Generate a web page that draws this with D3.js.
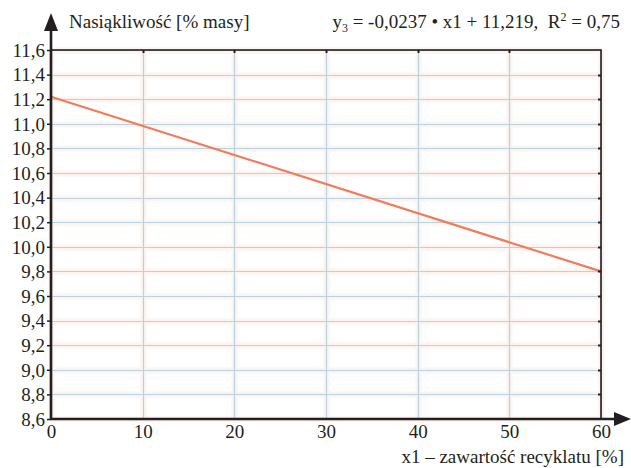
<!DOCTYPE html>
<html>
<head>
<meta charset="utf-8">
<script src="https://cdn.jsdelivr.net/npm/d3@7"></script>
<style>
text, tspan { font-family: "Times New Roman", "Liberation Serif", Tinos !important; }
</style>
</head>
<body style="margin:0">
<svg id="chart" width="631" height="468"></svg>
<script>
// data
const xTicks = [0, 10, 20, 30, 40, 50, 60];
const yTicks = [8.6, 8.8, 9.0, 9.2, 9.4, 9.6, 9.8, 10.0, 10.2, 10.4, 10.6, 10.8, 11.0, 11.2, 11.4, 11.6];
const lineX = [0, 60];
const lineY = [11.22, 9.8];
const yTitle = 'Nasiąkliwość [% masy]';
const xTitle = 'x1 – zawartość recyklatu [%]';

const INK = '#231f20';
const svg = d3.select('#chart');
const pLeft = 51, pRight = 601, pTop = 50, pBottom = 419;

const x = d3.scaleLinear().domain([0, 60]).range([pLeft, pRight]);
const y = d3.scaleLinear().domain([8.6, 11.6]).range([pBottom, pTop]);
const fmt = d => d3.format('.1f')(d).replace('.', ',');
const crisp = v => Math.round(v) + 0.5;

function serif(sel, size) {
	sel.style('font-family', '"Times New Roman"')
		.style('font-size', size + 'px')
		.attr('fill', INK);
}

// grid, faint pink halo then light blue
const grid = svg.append('g');
grid.selectAll('.hp').data(yTicks).enter().append('line')
	.attr('x1', pLeft).attr('x2', pRight)
	.attr('y1', d => crisp(y(d))).attr('y2', d => crisp(y(d)))
	.attr('stroke', '#fdf3ef').attr('stroke-width', 6);
grid.selectAll('.vp').data(xTicks).enter().append('line')
	.attr('y1', pTop).attr('y2', pBottom)
	.attr('x1', d => crisp(x(d))).attr('x2', d => crisp(x(d)))
	.attr('stroke', '#fdf3ef').attr('stroke-width', 6);
grid.selectAll('.h').data(yTicks).enter().append('line')
	.attr('x1', pLeft).attr('x2', pRight)
	.attr('y1', d => crisp(y(d))).attr('y2', d => crisp(y(d)))
	.attr('stroke', '#b5d3e3').attr('stroke-width', 1.2);
grid.selectAll('.v').data(xTicks).enter().append('line')
	.attr('y1', pTop).attr('y2', pBottom)
	.attr('x1', d => crisp(x(d))).attr('x2', d => crisp(x(d)))
	.attr('stroke', '#b5d3e3').attr('stroke-width', 1.2);

// regression line
svg.append('path')
	.datum(d3.zip(lineX, lineY))
	.attr('d', d3.line().x(d => x(d[0])).y(d => y(d[1])))
	.attr('stroke', '#f27b5c').attr('stroke-width', 2.2).attr('fill', 'none');

// frame
svg.append('rect')
	.attr('x', pLeft).attr('y', pTop).attr('width', pRight - pLeft).attr('height', pBottom - pTop)
	.attr('fill', 'none').attr('stroke', INK).attr('stroke-width', 1.6);

// small inner ticks on top and right
svg.append('g').selectAll('line').data(xTicks.slice(1, -1)).enter().append('line')
	.attr('x1', d => crisp(x(d))).attr('x2', d => crisp(x(d))).attr('y1', pTop).attr('y2', pTop + 3)
	.attr('stroke', INK).attr('stroke-width', 2);
svg.append('g').selectAll('line').data(yTicks.slice(1, -1)).enter().append('line')
	.attr('y1', d => crisp(y(d))).attr('y2', d => crisp(y(d))).attr('x1', pRight - 3).attr('x2', pRight)
	.attr('stroke', INK).attr('stroke-width', 2);

// axes
const yAxis = svg.append('g').attr('transform', `translate(${pLeft},0)`)
	.call(d3.axisLeft(y).tickValues(yTicks).tickFormat(fmt).tickSize(4).tickPadding(2));
const xAxis = svg.append('g').attr('transform', `translate(0,${pBottom})`)
	.call(d3.axisBottom(x).tickValues(xTicks).tickSize(0).tickPadding(3));
[yAxis, xAxis].forEach(a => {
	a.attr('font-family', null).attr('font-size', null);
	a.select('.domain').remove();
	a.selectAll('text').call(serif, 19);
	a.selectAll('.tick line').attr('stroke', INK).attr('stroke-width', 1.5);
});
xAxis.selectAll('text').attr('dy', '0.85em');
yAxis.selectAll('text').attr('dy', '0.33em');

// thick axis lines with arrows
svg.append('line').attr('x1', pLeft).attr('x2', pLeft).attr('y1', pBottom + 1).attr('y2', 28)
	.attr('stroke', INK).attr('stroke-width', 2.6);
svg.append('line').attr('x1', pLeft - 1).attr('x2', 619).attr('y1', pBottom).attr('y2', pBottom)
	.attr('stroke', INK).attr('stroke-width', 2.6);
svg.append('path').attr('d', `M${pLeft},13 L${pLeft - 7},31 L${pLeft + 7},31 Z`).attr('fill', INK);
svg.append('path').attr('d', `M631,${pBottom} L614,${pBottom - 7} L614,${pBottom + 7} Z`).attr('fill', INK);

// titles
svg.append('text').attr('x', 69).attr('y', 28).call(serif, 19).text(yTitle);
svg.append('text').attr('x', 624).attr('y', 463).call(serif, 19)
	.attr('text-anchor', 'end').text(xTitle);

const eq = svg.append('text').attr('x', 620).attr('y', 28).call(serif, 19).attr('text-anchor', 'end');
eq.append('tspan').text('y');
eq.append('tspan').style('font-size', '12px').attr('dy', 4).text('3');
eq.append('tspan').attr('dy', -4).text(' = -0,0237 • x1 + 11,219,\u00a0\u00a0R');
eq.append('tspan').style('font-size', '12px').attr('dy', -7).text('2');
eq.append('tspan').attr('dy', 7).text(' = 0,75');
</script>
</body>
</html>
